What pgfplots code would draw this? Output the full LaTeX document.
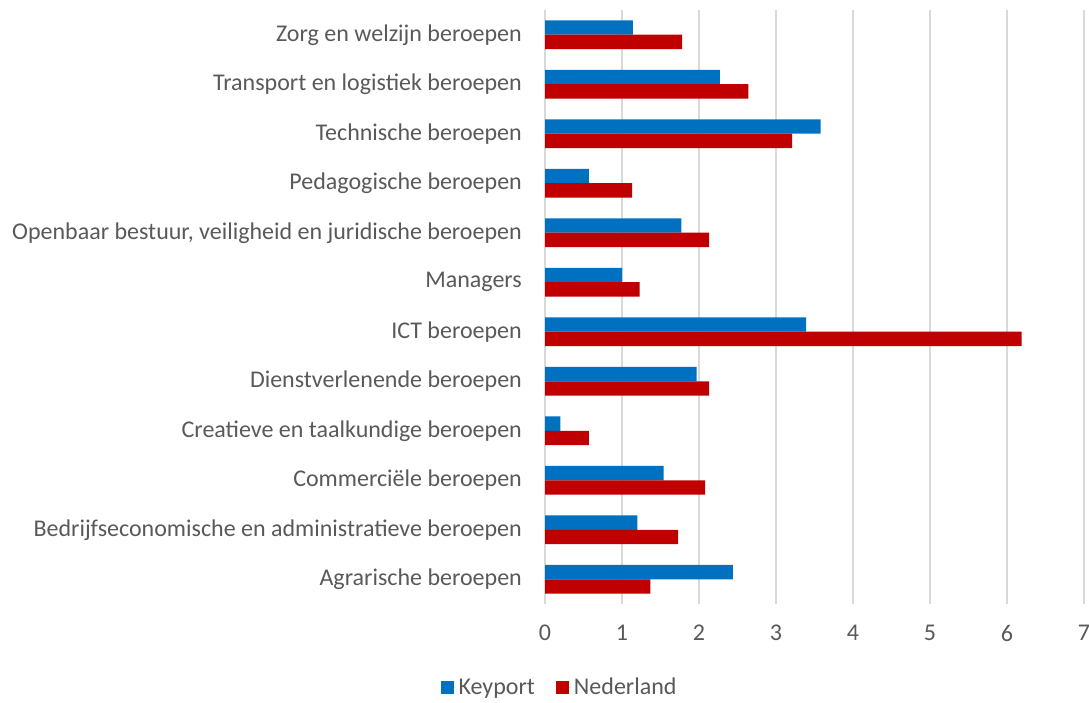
\documentclass[border=0pt]{standalone}
\usepackage{fontspec}
\setmainfont{Carlito}
\usepackage{pgfplots}
\pgfplotsset{compat=1.18}
\definecolor{keyblue}{HTML}{0070C0}
\definecolor{nlred}{HTML}{C00000}
\definecolor{txtgray}{HTML}{595959}
\definecolor{gridgray}{HTML}{D9D9D9}
\begin{document}
\begin{tikzpicture}[font=\fontsize{24}{28}\selectfont]
\path[use as bounding box] (0,0) rectangle (1089pt,702pt);
\begin{axis}[
    at={(545pt,98pt)}, anchor=south west,
    scale only axis, width=539pt, height=594pt,
    xbar, bar width=0.29,
    xmin=0, xmax=7, ymin=-0.5, ymax=11.5,
    xtick={0,...,7},
    ytick={0,...,11},
    yticklabels={Agrarische beroepen,
        Bedrijfseconomische en administratieve beroepen,
        Commerciële beroepen,
        Creatieve en taalkundige beroepen,
        Dienstverlenende beroepen,
        ICT beroepen,
        Managers,
        {Openbaar bestuur, veiligheid en juridische beroepen},
        Pedagogische beroepen,
        Technische beroepen,
        Transport en logistiek beroepen,
        Zorg en welzijn beroepen},
    /pgf/number format/assume math mode=true,
    tick label style={text=txtgray},
    yticklabel style={inner sep=0pt, xshift=-23pt},
    xticklabel style={inner sep=0pt, yshift=-21pt},
    major tick length=0pt,
    axis line style={draw=none},
    xmajorgrids, grid style={gridgray, line width=1.5pt},
    legend style={at={(0.028,-0.14)}, anchor=center, draw=none,
        legend columns=2, text=txtgray,
        nodes={inner xsep=3pt},
        /tikz/every even column/.append style={column sep=18pt}},
    legend image code/.code={\fill[#1,draw=none] (0pt,-6.5pt) rectangle (13pt,6.5pt);
        \path (0pt,0pt) -- (15pt,0pt);},
]
\addplot[fill=keyblue, draw=none, bar shift=0.145] coordinates {
    (2.44,0) (1.20,1) (1.54,2) (0.20,3) (1.97,4) (3.39,5)
    (1.00,6) (1.77,7) (0.57,8) (3.58,9) (2.27,10) (1.14,11)
};
\addlegendentry{Keyport}
\addplot[fill=nlred, draw=none, bar shift=-0.145] coordinates {
    (1.37,0) (1.73,1) (2.08,2) (0.57,3) (2.13,4) (6.19,5)
    (1.23,6) (2.13,7) (1.13,8) (3.21,9) (2.64,10) (1.78,11)
};
\addlegendentry{Nederland}
\end{axis}
\end{tikzpicture}
\end{document}
